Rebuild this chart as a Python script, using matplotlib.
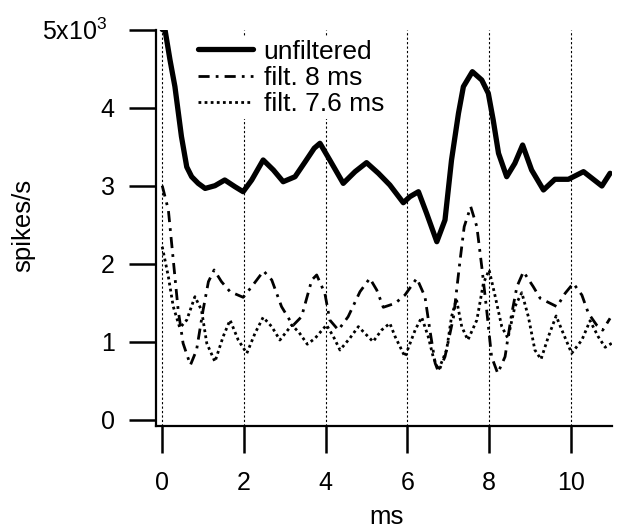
import matplotlib
matplotlib.use("Agg")
import matplotlib.pyplot as plt
from matplotlib.transforms import ScaledTranslation

plt.rcParams["font.family"] = ["Liberation Sans", "DejaVu Sans"]
plt.rcParams["mathtext.fontset"] = "custom"
plt.rcParams["mathtext.rm"] = "Liberation Sans"
plt.rcParams["mathtext.default"] = "regular"

# time (ms) and rate (spikes/s)
t_unf = [0.0, 0.07, 0.19, 0.31, 0.47, 0.6, 0.72, 0.88, 1.05, 1.29, 1.53, 1.78, 1.98,
         2.19, 2.47, 2.72, 2.96, 3.25, 3.49, 3.72, 3.86, 4.1, 4.43, 4.72, 5.0, 5.29,
         5.57, 5.9, 6.06, 6.27, 6.47, 6.72, 6.92, 7.08, 7.25, 7.37, 7.59, 7.82, 7.98,
         8.1, 8.23, 8.43, 8.63, 8.82, 9.04, 9.33, 9.61, 9.94, 10.31, 10.76, 10.96]
v_unf = [5000, 4990, 4610, 4270, 3630, 3240, 3115, 3030, 2965, 3000, 3073, 2987, 2923,
         3073, 3329, 3201, 3051, 3115, 3300, 3480, 3543, 3329, 3030, 3180, 3295, 3159,
         3009, 2782, 2859, 2923, 2646, 2283, 2561, 3329, 3927, 4268, 4460, 4353, 4183,
         3841, 3415, 3115, 3287, 3521, 3201, 2945, 3082, 3082, 3180, 2996, 3159]

t_f8 = [0.0, 0.15, 0.27, 0.39, 0.51, 0.69, 0.84, 1.0, 1.13, 1.27, 1.45, 1.66, 1.98,
        2.19, 2.48, 2.68, 2.92, 3.2, 3.41, 3.66, 3.78, 3.98, 4.1, 4.31, 4.55, 4.84,
        5.08, 5.25, 5.41, 5.7, 5.94, 6.23, 6.43, 6.55, 6.68, 6.76, 6.92, 7.13, 7.29,
        7.39, 7.55, 7.7, 7.82, 7.94, 8.06, 8.21, 8.39, 8.54, 8.68, 8.84, 9.08, 9.25,
        9.66, 9.86, 10.06, 10.27, 10.43, 10.63, 10.78, 10.96]
v_f8 = [3000, 2689, 2049, 1408, 982, 704, 896, 1408, 1771, 1921, 1771, 1643, 1571,
        1707, 1908, 1793, 1451, 1210, 1323, 1793, 1857, 1622, 1280, 1152, 1323, 1643,
        1814, 1664, 1443, 1494, 1600, 1814, 1579, 1152, 726, 618, 810, 1323, 2049,
        2475, 2731, 2475, 1963, 1408, 810, 598, 810, 1323, 1707, 1899, 1707, 1558,
        1451, 1622, 1750, 1600, 1366, 1216, 1150, 1302]

t_f76 = [0.0, 0.15, 0.27, 0.43, 0.6, 0.8, 0.96, 1.09, 1.29, 1.49, 1.66, 1.86, 2.07,
         2.27, 2.47, 2.68, 2.88, 3.17, 3.35, 3.55, 3.74, 4.02, 4.19, 4.35, 4.59, 4.8,
         5.16, 5.37, 5.57, 5.7, 5.94, 6.19, 6.35, 6.51, 6.63, 6.76, 6.96, 7.08, 7.2,
         7.33, 7.48, 7.7, 7.86, 8.0, 8.15, 8.31, 8.46, 8.63, 8.8, 8.96, 9.12, 9.27,
         9.45, 9.64, 9.78, 10.02, 10.27, 10.47, 10.67, 10.84, 11.0]
v_f76 = [2219, 1835, 1451, 1180, 1280, 1579, 1408, 982, 746, 1067, 1280, 1024, 854,
         1110, 1315, 1195, 1024, 1216, 1120, 970, 1046, 1216, 1067, 896, 1046, 1195,
         1003, 1152, 1238, 1067, 810, 1152, 1315, 1067, 810, 640, 896, 1323, 1545,
         1195, 1024, 1280, 1750, 1921, 1579, 1195, 1046, 1451, 1630, 1323, 896, 777,
         1067, 1332, 1152, 854, 1024, 1271, 1067, 931, 982]

labels = ["unfiltered", "filt. 8 ms", "filt. 7.6 ms"]
xticks = [0, 2, 4, 6, 8, 10]
yticks = [0, 1000, 2000, 3000, 4000, 5000]
yticklabels = ["0", "1", "2", "3", "4", "5x10$^3$"]

W, H = 626, 532
fig = plt.figure(figsize=(W / 100, H / 100), dpi=100)
ax = fig.add_axes([155.7 / W, 1 - 426 / H, (611.7 - 155.7) / W, (426 - 29.5) / H])

ax.plot(t_unf, v_unf, color="black", lw=3.8, label=labels[0], zorder=3,
        solid_joinstyle="round", solid_capstyle="round")
ax.plot(t_f8, v_f8, color="black", lw=2.0, ls=(0, (4, 2.2, 1, 2.2)), label=labels[1], zorder=3)
ax.plot(t_f76, v_f76, color="black", lw=2.0, ls=(0, (1, 1.2)), label=labels[2], zorder=3)

ax.set_xlim(-0.16, 11)
ax.set_ylim(-77, 5000)
ax.set_xticks(xticks)
ax.set_yticks(yticks)
ax.set_yticklabels(yticklabels)
ax.grid(axis="x", color="black", lw=0.8, ls=(0, (2, 2)), zorder=1)
for s in ["top", "right"]:
    ax.spines[s].set_visible(False)
for s in ["left", "bottom"]:
    ax.spines[s].set_linewidth(1.6)
ax.tick_params(direction="out", length=19.5, width=1.8, labelsize=18, pad=10)
ax.tick_params(axis="x", pad=13)

# the exponent label sits a little further left in the original
top_lbl = ax.get_yticklabels()[-1]
top_lbl.set_transform(top_lbl.get_transform() + ScaledTranslation(-0.07, 0, fig.dpi_scale_trans))

fig.text(23 / W, 1 - 225 / H, "spikes/s", rotation=90, ha="center", va="center", fontsize=18.5)
fig.text(387 / W, 1 - 517 / H, "ms", ha="center", va="center", fontsize=18.5)

leg = ax.legend(loc="upper left", bbox_to_anchor=(195 / W, 1 - 37 / H),
                bbox_transform=fig.transFigure, frameon=True, fontsize=19,
                handlelength=2.1, handletextpad=0.4, labelspacing=0.08,
                borderpad=0.1, borderaxespad=0)
leg.get_frame().set_edgecolor("none")
leg.get_frame().set_facecolor("white")
leg.get_frame().set_alpha(1)
leg.set_zorder(2)

fig.savefig("out.png", dpi=100)
